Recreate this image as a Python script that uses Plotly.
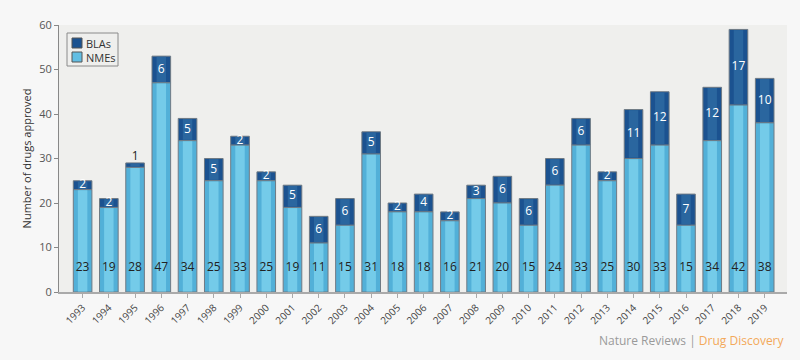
import plotly.graph_objects as go

years = [str(y) for y in range(1993, 2020)]
nmes = [23, 19, 28, 47, 34, 25, 33, 25, 19, 11, 15, 31, 18, 18, 16, 21, 20, 15, 24, 33, 25, 30, 33, 15, 34, 42, 38]
blas = [2, 2, 1, 6, 5, 5, 2, 2, 5, 6, 6, 5, 2, 4, 2, 3, 6, 6, 6, 6, 2, 11, 12, 7, 12, 17, 10]
y_ticks = [0, 10, 20, 30, 40, 50, 60]
series_names = ["BLAs", "NMEs"]

totals = [n + b for n, b in zip(nmes, blas)]
FONT = "Open Sans"
BAR_W = 0.71
HL_W = 0.36
BLA_COL = "#1b5290"
NME_COL = "#52b0d8"

fig = go.Figure()

# Base bars (darker edges)
fig.add_trace(go.Bar(x=years, y=blas, base=nmes, name=series_names[0], width=BAR_W,
                     marker=dict(color=BLA_COL, line=dict(color="#6f7a84", width=1)),
                     hoverinfo="skip", showlegend=False))
fig.add_trace(go.Bar(x=years, y=nmes, base=[0] * len(nmes), name=series_names[1], width=BAR_W,
                     marker=dict(color=NME_COL, line=dict(color="#6f7a84", width=1)),
                     hoverinfo="skip", showlegend=False))
# Highlight (gradient imitation)
fig.add_trace(go.Bar(x=years, y=[n - 0.25 for n in nmes], base=[0.1] * len(nmes), width=HL_W,
                     marker=dict(color="#74cbe9", line=dict(width=0)), showlegend=False,
                     hoverinfo="skip"))
fig.add_trace(go.Bar(x=years, y=[b - 0.35 for b in blas], base=[n + 0.2 for n in nmes], width=HL_W,
                     marker=dict(color="#2a669f", line=dict(width=0)), showlegend=False,
                     hoverinfo="skip"))

# NME labels near bottom
fig.add_trace(go.Scatter(x=years, y=[5.3] * len(years), mode="text",
                         text=[str(v) for v in nmes],
                         textfont=dict(family=FONT, size=12, color="#222222"),
                         showlegend=False, hoverinfo="skip"))
# BLA labels
in_x = [y for y, b in zip(years, blas) if b >= 2]
in_y = [n + b / 2 for n, b in zip(nmes, blas) if b >= 2]
in_t = [str(b) for b in blas if b >= 2]
fig.add_trace(go.Scatter(x=in_x, y=in_y, mode="text", text=in_t,
                         textfont=dict(family=FONT, size=12, color="#ffffff"),
                         showlegend=False, hoverinfo="skip"))
out_x = [y for y, b in zip(years, blas) if b < 2]
out_y = [t + 1.3 for t, b in zip(totals, blas) if b < 2]
out_t = [str(b) for b in blas if b < 2]
fig.add_trace(go.Scatter(x=out_x, y=out_y, mode="text", text=out_t,
                         textfont=dict(family=FONT, size=12, color="#222222"),
                         showlegend=False, hoverinfo="skip"))

L, R, T, B = 59, 13, 25, 68
PW, PH = 800 - L - R, 360 - T - B


def px(x):
    return (x - L) / PW


def py(y):
    return (360 - B - y) / PH


shapes = [
    dict(type="rect", xref="paper", yref="paper", x0=px(67), x1=px(118), y0=py(66), y1=py(33),
         line=dict(color="#8a8a8a", width=1), fillcolor="#efefed", layer="above"),
    dict(type="rect", xref="paper", yref="paper", x0=px(72), x1=px(82), y0=py(48), y1=py(38),
         line=dict(color="#555555", width=1), fillcolor=BLA_COL, layer="above"),
    dict(type="rect", xref="paper", yref="paper", x0=px(72), x1=px(82), y0=py(62), y1=py(52),
         line=dict(color="#555555", width=1), fillcolor="#62bee3", layer="above"),
]
fig.add_annotation(xref="paper", yref="paper", x=px(85), y=py(50), xanchor="left", yanchor="middle",
                   text="<br>".join(series_names), showarrow=False, align="left", borderpad=0,
                   font=dict(family=FONT, size=11, color="#333333"))

fig.update_layout(
    width=800, height=360,
    margin=dict(l=L, r=R, t=T, b=B),
    paper_bgcolor="#f7f7f7",
    plot_bgcolor="#efefed",
    barmode="overlay",
    font=dict(family=FONT, size=11, color="#555555"),
    showlegend=False,
    shapes=shapes,
)
fig.update_xaxes(
    type="category", range=[-0.9, 26.85], automargin=False,
    tickangle=-45, tickfont=dict(family=FONT, size=10, color="#444444"),
    showline=True, linecolor="#aaaaaa", linewidth=2,
    ticks="outside", ticklen=4, tickcolor="#aaaaaa",
    showgrid=False, zeroline=False,
)
fig.update_yaxes(
    range=[0, 60], tickvals=y_ticks, automargin=False,
    tickfont=dict(family=FONT, size=11, color="#555555"),
    showline=True, linecolor="#888888", linewidth=1,
    ticks="outside", ticklen=4, tickcolor="#888888",
    showgrid=False, zeroline=False,
    title=dict(text="Number of drugs approved", font=dict(family=FONT, size=11, color="#333333"), standoff=5),
)

fig.add_annotation(
    xref="paper", yref="paper", x=1.0, y=-0.18, xanchor="right", yanchor="middle",
    text="<span style='color:#9a9a9a'>Nature Reviews | </span><span style='color:#f3a95a'>Drug Discovery</span>",
    showarrow=False, font=dict(family=FONT, size=12),
)

fig.write_html("out.html", config={"displayModeBar": False},
               post_script="document.body.style.margin='0';document.body.style.background='#f7f7f7';")
